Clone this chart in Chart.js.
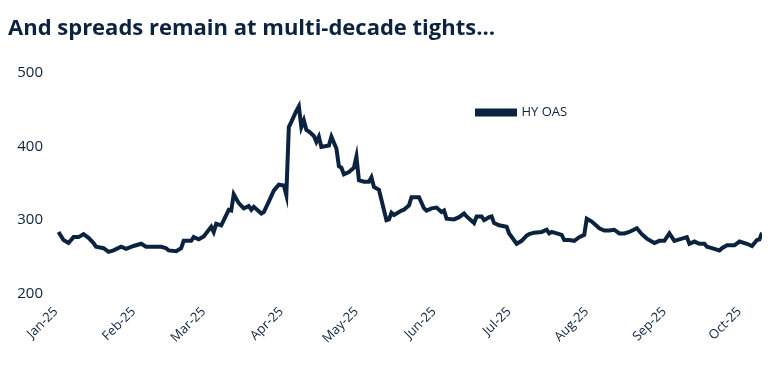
<!DOCTYPE html>
<html>
<head>
<meta charset="utf-8">
<title>HY OAS</title>
<script src="https://cdn.jsdelivr.net/npm/chart.js@4.4.1/dist/chart.umd.min.js"></script>
<style>
    html, body { margin: 0; padding: 0; background: #ffffff; }
</style>
</head>
<body>
<canvas id="chart" width="780" height="366"></canvas>
<script>
// ==========================
// Data
// ==========================
const dates = [
    '2025-01-02','2025-01-04','2025-01-06','2025-01-08','2025-01-10','2025-01-12','2025-01-14','2025-01-16',
    '2025-01-17','2025-01-20','2025-01-22','2025-01-24','2025-01-27','2025-01-29','2025-02-01','2025-02-04',
    '2025-02-06','2025-02-09','2025-02-12','2025-02-14','2025-02-15','2025-02-18','2025-02-20','2025-02-21',
    '2025-02-24','2025-02-25','2025-02-27','2025-03-01','2025-03-04','2025-03-05','2025-03-06','2025-03-08',
    '2025-03-11','2025-03-12','2025-03-13','2025-03-15','2025-03-17','2025-03-19','2025-03-20','2025-03-21',
    '2025-03-24','2025-03-25','2025-03-27','2025-03-29','2025-03-31','2025-04-02','2025-04-03','2025-04-04',
    '2025-04-05','2025-04-07','2025-04-08','2025-04-09','2025-04-10','2025-04-11','2025-04-12','2025-04-14',
    '2025-04-15','2025-04-16','2025-04-17','2025-04-20','2025-04-21','2025-04-23','2025-04-24','2025-04-25',
    '2025-04-26','2025-04-28','2025-04-30','2025-05-01','2025-05-02','2025-05-04','2025-05-06','2025-05-07',
    '2025-05-08','2025-05-10','2025-05-13','2025-05-14','2025-05-15','2025-05-16','2025-05-19','2025-05-20',
    '2025-05-22','2025-05-23','2025-05-26','2025-05-28','2025-05-29','2025-05-31','2025-06-02','2025-06-04',
    '2025-06-05','2025-06-06','2025-06-09','2025-06-11','2025-06-13','2025-06-14','2025-06-17','2025-06-18',
    '2025-06-20','2025-06-21','2025-06-23','2025-06-24','2025-06-25','2025-06-27','2025-06-30','2025-07-01',
    '2025-07-04','2025-07-06','2025-07-08','2025-07-09','2025-07-11','2025-07-14','2025-07-16','2025-07-17',
    '2025-07-18','2025-07-21','2025-07-22','2025-07-23','2025-07-25','2025-07-27','2025-07-29','2025-07-31',
    '2025-08-01','2025-08-03','2025-08-06','2025-08-08','2025-08-10','2025-08-12','2025-08-14','2025-08-16',
    '2025-08-18','2025-08-21','2025-08-23','2025-08-25','2025-08-28','2025-08-30','2025-09-01','2025-09-03',
    '2025-09-05','2025-09-07','2025-09-10','2025-09-11','2025-09-13','2025-09-15','2025-09-17','2025-09-18',
    '2025-09-20','2025-09-23','2025-09-24','2025-09-26','2025-09-29','2025-10-01','2025-10-04','2025-10-06',
    '2025-10-08','2025-10-09','2025-10-10'
];

const hyOas = [
    284, 273, 269, 277, 277, 281, 276, 269,
    264, 262, 257, 259, 264, 261, 265, 268,
    264, 264, 264, 262, 259, 258, 262, 272,
    272, 277, 274, 278, 291, 284, 295, 293,
    314, 313, 335, 323, 316, 319, 314, 318,
    309, 311, 325, 340, 348, 347, 334, 426,
    433, 448, 454, 426, 435, 422, 420, 414,
    406, 413, 399, 401, 413, 397, 373, 371,
    362, 365, 371, 386, 354, 352, 352, 358,
    345, 341, 300, 301, 310, 307, 313, 314,
    320, 331, 331, 316, 313, 316, 317, 311,
    313, 302, 301, 304, 309, 305, 296, 305,
    305, 300, 304, 305, 296, 293, 291, 282,
    268, 272, 279, 281, 283, 284, 287, 282,
    284, 281, 280, 273, 273, 272, 277, 280,
    302, 298, 289, 286, 286, 287, 282, 282,
    284, 289, 281, 275, 269, 272, 272, 282,
    272, 274, 277, 268, 271, 268, 268, 264,
    262, 259, 262, 266, 266, 271, 268, 265,
    273, 274, 283
];

const monthTicks = ['2025-01-01','2025-02-01','2025-03-01','2025-04-01','2025-05-01',
                    '2025-06-01','2025-07-01','2025-08-01','2025-09-01','2025-10-01'];
const monthLabels = ['Jan-25','Feb-25','Mar-25','Apr-25','May-25',
                     'Jun-25','Jul-25','Aug-25','Sep-25','Oct-25'];
const yTicks = [200, 300, 400, 500];

const NAVY = '#0c2340';
const FONT = '"Open Sans", Lato, sans-serif';

// days since Jan 1 2025
function dayOf(s) {
    const [y, m, d] = s.split('-').map(Number);
    return (Date.UTC(y, m - 1, d) - Date.UTC(2025, 0, 1)) / 86400000;
}

const points = dates.map((d, i) => ({ x: dayOf(d), y: hyOas[i] }));

// move the legend into the plot, next to the peak
const legendSpot = {
    id: 'legendSpot',
    beforeDraw(chart) {
        const lg = chart.legend;
        if (!lg) return;
        const w = lg.right - lg.left;
        const h = lg.bottom - lg.top;
        lg.left = 471; lg.right = 471 + w;
        lg.top = 100; lg.bottom = 100 + h;
    }
};

new Chart(document.getElementById('chart'), {
    type: 'line',
    data: {
        datasets: [{
            label: 'HY OAS',
            data: points,
            borderColor: NAVY,
            backgroundColor: NAVY,
            borderWidth: 4,
            pointRadius: 0,
            tension: 0,
            fill: false
        }]
    },
    options: {
        responsive: false,
        animation: false,
        layout: { padding: { left: 8, right: 18, top: 0, bottom: 0 } },
        plugins: {
            title: {
                display: true,
                text: 'And spreads remain at multi-decade tights…',
                align: 'start',
                color: NAVY,
                font: { family: FONT, size: 22, weight: 'bold' },
                padding: { top: 16, bottom: 30 }
            },
            legend: {
                position: 'chartArea',
                align: 'start',
                labels: {
                    color: NAVY,
                    font: { family: FONT, size: 13 },
                    boxWidth: 38,
                    boxHeight: 4,
                    padding: 6
                }
            },
            tooltip: { enabled: false }
        },
        scales: {
            x: {
                type: 'linear',
                min: 0,
                max: dayOf(dates[dates.length - 1]),
                grid: { display: false },
                border: { display: false },
                afterBuildTicks: (scale) => {
                    scale.ticks = monthTicks.map(d => ({ value: dayOf(d) }));
                },
                afterFit: (scale) => { scale.height = 72; },
                ticks: {
                    autoSkip: false,
                    minRotation: 45,
                    maxRotation: 45,
                    padding: 2,
                    color: NAVY,
                    font: { family: FONT, size: 13 },
                    callback: (value, i) => monthLabels[i]
                }
            },
            y: {
                min: 200,
                max: 500,
                grid: { display: false },
                border: { display: false },
                afterBuildTicks: (scale) => {
                    scale.ticks = yTicks.map(v => ({ value: v }));
                },
                afterFit: (scale) => { scale.width = 48; },
                ticks: {
                    padding: 5,
                    color: NAVY,
                    font: { family: FONT, size: 15 }
                }
            }
        }
    },
    plugins: [legendSpot]
});
</script>
</body>
</html>
